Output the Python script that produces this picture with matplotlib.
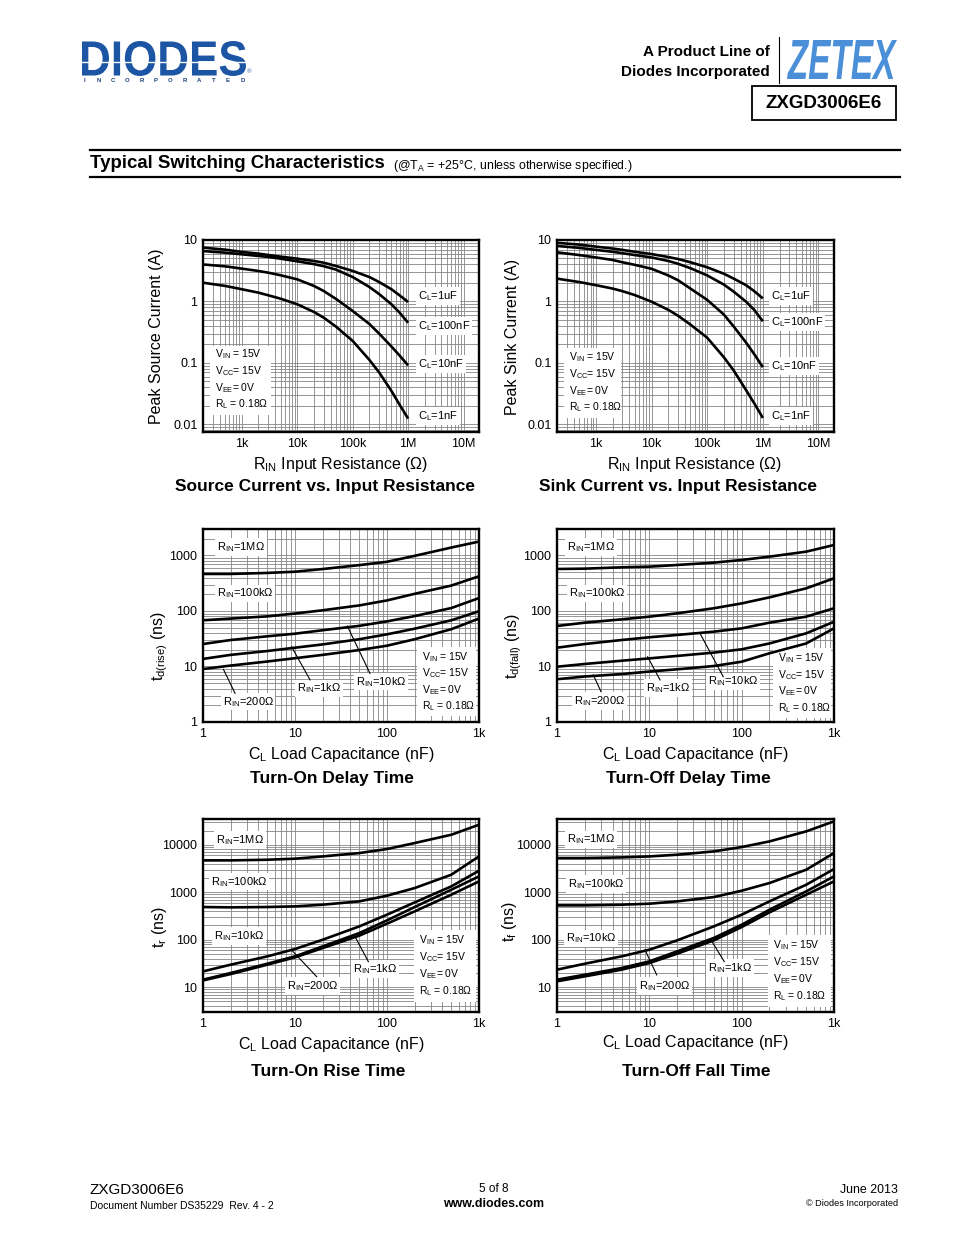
import numpy as np
import matplotlib
matplotlib.use('Agg')
import matplotlib.pyplot as plt
from matplotlib.ticker import LogLocator, NullFormatter, FixedLocator, FixedFormatter
from matplotlib.textpath import TextPath
from matplotlib.patches import PathPatch, Rectangle
from matplotlib.font_manager import FontProperties
from matplotlib.transforms import Affine2D

plt.rcParams['font.family'] = ['Liberation Sans', 'DejaVu Sans']
plt.rcParams['mathtext.fontset'] = 'custom'
plt.rcParams['mathtext.rm'] = 'Liberation Sans'
plt.rcParams['mathtext.it'] = 'Liberation Sans:italic'
plt.rcParams['mathtext.bf'] = 'Liberation Sans:bold'

# ---------------- data ----------------
r_in = [200, 500, 1e3, 2e3, 3e3, 5e3, 1e4, 2e4, 3e4, 5e4, 1e5, 2e5, 3e5, 5e5, 7e5, 1e6]
src_1uF = [7.5, 6.97, 6.4, 6.0, 5.7, 5.36, 4.97, 4.56, 4.27, 3.78, 3.14, 2.5, 2.07, 1.58, 1.26, 0.98]
src_100nF = [6.6, 6.22, 5.85, 5.5, 5.3, 4.97, 4.5, 4.05, 3.75, 3.3, 2.5, 1.72, 1.32, 0.90, 0.66, 0.45]
src_10nF = [4.0, 3.73, 3.42, 3.13, 2.94, 2.67, 2.29, 1.79, 1.48, 1.1, 0.70, 0.43, 0.30, 0.185, 0.132, 0.091]
src_1nF = [2.02, 1.79, 1.58, 1.39, 1.26, 1.11, 0.90, 0.675, 0.545, 0.39, 0.228, 0.112, 0.070, 0.035, 0.021, 0.0124]

snk_1uF = [9.0, 8.42, 7.8, 7.26, 6.9, 6.43, 5.9, 5.28, 4.9, 4.34, 3.6, 2.82, 2.35, 1.84, 1.47, 1.12]
snk_100nF = [8.0, 7.45, 6.9, 6.43, 6.1, 5.69, 5.2, 4.56, 4.1, 3.48, 2.65, 1.88, 1.44, 0.99, 0.73, 0.475]
snk_10nF = [6.3, 5.69, 5.2, 4.73, 4.34, 3.94, 3.4, 2.65, 2.21, 1.62, 1.06, 0.61, 0.39, 0.214, 0.139, 0.085]
snk_1nF = [2.35, 2.07, 1.84, 1.62, 1.47, 1.27, 0.99, 0.73, 0.585, 0.42, 0.257, 0.123, 0.075, 0.036, 0.022, 0.0127]

c_load = [1, 2, 5, 10, 20, 50, 100, 200, 500, 1000]
ton_1M = [465, 465, 485, 510, 570, 670, 770, 985, 1390, 1780]
ton_100k = [68, 73, 80, 90, 103, 126, 155, 204, 287, 422]
ton_10k = [25.4, 30, 35, 39, 45, 54, 65, 81, 113, 171]
ton_1k = [13.7, 16.2, 19, 21.8, 25, 31, 38, 48, 68, 99]
ton_200 = [9.0, 10.4, 12.3, 14.1, 16.2, 19.8, 23.7, 31, 47, 73]

toff_1M = [571, 579, 612, 629, 674, 743, 830, 953, 1172, 1545]
toff_100k = [53.7, 61.6, 70.7, 79, 90.8, 112, 137, 176, 256, 388]
toff_10k = [21.8, 25.4, 30, 33.6, 37, 42.4, 48.7, 61.6, 79, 112]
toff_1k = [9.9, 11.1, 12.7, 14, 15.5, 17.8, 20.4, 26, 39.6, 64]
toff_200 = [5.9, 6.6, 7.3, 8.1, 8.9, 10.2, 12.2, 17.3, 26, 48.7]

tr_1M = [4700, 4700, 4850, 5100, 5700, 6700, 8150, 10900, 16300, 26500]
tr_100k = [489, 481, 489, 505, 547, 643, 847, 1228, 2344, 5700]
tr_10k = [21.5, 29.8, 44.6, 63.7, 100, 191, 337, 612, 1331, 2845]
tr_1k = [14.4, 19.9, 31.2, 44.6, 72.4, 138, 256, 489, 1132, 2163]
tr_200 = [13.9, 18.9, 29.8, 42.5, 66.8, 122, 218, 396, 889, 1695]

tf_1M = [5260, 5260, 5430, 5700, 6180, 7270, 8970, 11800, 19200, 31200]
tf_100k = [530, 530, 547, 574, 643, 793, 1079, 1565, 2988, 6710]
tf_10k = [23.4, 31.2, 44.6, 61.6, 97, 191, 337, 643, 1442, 3086]
tf_1k = [14.4, 18.3, 25.3, 35, 56.8, 109, 207, 429, 1044, 2163]
tf_200 = [13.3, 16.9, 23.4, 32.3, 50.7, 97, 185, 377, 889, 1695]

r_ticks = [1e3, 1e4, 1e5, 1e6, 1e7]
r_ticklabels = ['1k', '10k', '100k', '1M', '10M']
i_ticks = [0.01, 0.1, 1, 10]
i_ticklabels = ['0.01', '0.1', '1', '10']
c_ticks = [1, 10, 100, 1000]
c_ticklabels = ['1', '10', '100', '1k']
td_ticks = [1, 10, 100, 1000]
td_ticklabels = ['1', '10', '100', '1000']
t_ticks = [10, 100, 1000, 10000]
t_ticklabels = ['10', '100', '1000', '10000']

W, H = 954, 1235
fig = plt.figure(figsize=(W / 100, H / 100), dpi=100)
bg = fig.add_axes([0, 0, 1, 1])
bg.set_xlim(0, W)
bg.set_ylim(H, 0)
bg.axis('off')


def px_axes(x0, y0, x1, y1):
    return fig.add_axes([x0 / W, 1 - y1 / H, (x1 - x0) / W, (y1 - y0) / H])


def path_text(s, x0, y0, x1, y1, color, weight='bold', style='normal'):
    fp = FontProperties(family='Liberation Sans', weight=weight, style=style)
    tp = TextPath((0, 0), s, size=10, prop=fp)
    bb = tp.get_extents()
    tr = Affine2D().translate(-bb.x0, -bb.y0).scale((x1 - x0) / bb.width, -(y1 - y0) / bb.height).translate(x0, y1)
    bg.add_patch(PathPatch(tr.transform_path(tp), fc=color, ec='none'))


# ---------------- header ----------------
path_text('DIODES', 82, 41, 246, 76, '#1c55a3', weight='bold')
bg.plot([82, 246], [62, 62], color='white', lw=1.0)
for i, ch in enumerate('INCORPORATED'):
    bg.text(84 + i * 14.4, 80.5, ch, fontsize=4.3, fontweight='bold', color='#1c3f7a', ha='center', va='center')
bg.text(249, 72, '®', fontsize=4.5, color='#1c55a3', ha='center', va='center')

path_text('ZETEX', 787, 40, 897, 79, '#4a8fd8', weight='bold', style='italic')
bg.plot([779, 779], [37, 83], color='black', lw=0.8)
bg.text(770, 52, 'A Product Line of', ha='right', va='center', fontsize=11, fontweight='bold')
bg.text(770, 72, 'Diodes Incorporated', ha='right', va='center', fontsize=11, fontweight='bold')
bg.add_patch(Rectangle((752, 86), 144, 34, fill=False, lw=1.3, ec='black'))
bg.text(824, 103, 'ZXGD3006E6', ha='center', va='center', fontsize=13.5, fontweight='bold')

bg.plot([90, 900], [150, 150], color='black', lw=1.6)
bg.plot([90, 900], [177, 177], color='black', lw=1.6)
bg.text(90, 164, 'Typical Switching Characteristics', fontsize=13.4, fontweight='bold', va='center', ha='left')
bg.text(393, 166, r'(@T$_\mathrm{A}$ = +25°C, unless otherwise specified.)', fontsize=8.9, va='center', ha='left')

# ---------------- footer ----------------
bg.text(90, 1190, 'ZXGD3006E6', fontsize=11, va='center', ha='left')
bg.text(90, 1206, 'Document Number DS35229  Rev. 4 - 2', fontsize=7.5, va='center', ha='left')
bg.text(494, 1189, '5 of 8', fontsize=8.5, va='center', ha='center')
bg.text(494, 1204, 'www.diodes.com', fontsize=8.9, fontweight='bold', va='center', ha='center')
bg.text(898, 1190, 'June 2013', fontsize=8.9, va='center', ha='right')
bg.text(898, 1204, '© Diodes Incorporated', fontsize=6.6, va='center', ha='right')


# ---------------- helpers ----------------
def setup(ax, xlim, ylim, xt, xtl, yt, ytl):
    ax.set_xscale('log')
    ax.set_yscale('log')
    ax.set_xlim(*xlim)
    ax.set_ylim(*ylim)
    ax.xaxis.set_major_locator(FixedLocator(xt))
    ax.xaxis.set_major_formatter(FixedFormatter(xtl))
    ax.yaxis.set_major_locator(FixedLocator(yt))
    ax.yaxis.set_major_formatter(FixedFormatter(ytl))
    for a in (ax.xaxis, ax.yaxis):
        a.set_minor_locator(LogLocator(base=10, subs=np.arange(1, 10), numticks=200))
        a.set_minor_formatter(NullFormatter())
    ax.grid(True, which='both', color='#858585', lw=0.6)
    ax.set_axisbelow(True)
    ax.tick_params(which='both', length=0)
    ax.tick_params(axis='x', pad=4, labelsize=9)
    ax.tick_params(axis='y', pad=4, labelsize=9)
    for s in ax.spines.values():
        s.set_linewidth(1.7)
        s.set_zorder(5)


def conditions(ax, x, ys, box):
    bx0, by0, bx1, by1 = box
    ax.add_patch(Rectangle((bx0, by0), bx1 - bx0, by1 - by0, transform=ax.transAxes,
                           fc='white', ec='none', zorder=1.5))
    lines = [r'V$_\mathrm{IN}$ = 15V', r'V$_\mathrm{CC}$= 15V', r'V$_\mathrm{EE}$= 0V', r'R$_\mathrm{L}$ = 0.18Ω']
    for s, y in zip(lines, ys):
        ax.text(x, y, s, transform=ax.transAxes, fontsize=7.5, ha='left', va='center', zorder=4)


def label(ax, x, y, s, fs=8):
    ax.text(x, y, s, transform=ax.transAxes, fontsize=fs, ha='left', va='center', zorder=4,
            bbox=dict(fc='white', ec='none', pad=1.2))


def leader(ax, p0, p1):
    ax.plot([p0[0], p1[0]], [p0[1], p1[1]], transform=ax.transAxes, color='black', lw=0.8, zorder=4)


LW = 1.9
CURVE = dict(color='black', lw=LW, zorder=2.5, solid_capstyle='butt', solid_joinstyle='round')

# ---------------- plot 1: source current ----------------
ax1 = px_axes(203, 240, 479, 432)
setup(ax1, (200, 1.9e7), (0.0075, 10), r_ticks, r_ticklabels, i_ticks, i_ticklabels)
for ys in (src_1uF, src_100nF, src_10nF, src_1nF):
    ax1.plot(r_in, ys, **CURVE)
label(ax1, 0.779, 0.708, r'C$_\mathrm{L}$=1uF')
label(ax1, 0.779, 0.552, r'C$_\mathrm{L}$=100nF')
label(ax1, 0.779, 0.354, r'C$_\mathrm{L}$=10nF')
label(ax1, 0.779, 0.083, r'C$_\mathrm{L}$=1nF')
conditions(ax1, 0.045, [0.406, 0.318, 0.229, 0.146], (0.025, 0.09, 0.245, 0.45))

# ---------------- plot 2: sink current ----------------
ax2 = px_axes(557, 240, 834, 432)
setup(ax2, (200, 1.9e7), (0.0075, 10), r_ticks, r_ticklabels, i_ticks, i_ticklabels)
for ys in (snk_1uF, snk_100nF, snk_10nF, snk_1nF):
    ax2.plot(r_in, ys, **CURVE)
label(ax2, 0.773, 0.708, r'C$_\mathrm{L}$=1uF')
label(ax2, 0.773, 0.573, r'C$_\mathrm{L}$=100nF')
label(ax2, 0.773, 0.344, r'C$_\mathrm{L}$=10nF')
label(ax2, 0.773, 0.083, r'C$_\mathrm{L}$=1nF')
conditions(ax2, 0.045, [0.391, 0.302, 0.214, 0.130], (0.025, 0.075, 0.23, 0.44))

# ---------------- plot 3: turn-on delay ----------------
ax3 = px_axes(203, 529, 479, 722)
setup(ax3, (1, 1000), (1, 3000), c_ticks, c_ticklabels, td_ticks, td_ticklabels)
for ys in (ton_1M, ton_100k, ton_10k, ton_1k, ton_200):
    ax3.plot(c_load, ys, **CURVE)
label(ax3, 0.051, 0.907, r'R$_\mathrm{IN}$=1MΩ')
label(ax3, 0.051, 0.668, r'R$_\mathrm{IN}$=100kΩ')
label(ax3, 0.071, 0.105, r'R$_\mathrm{IN}$=200Ω')
label(ax3, 0.339, 0.175, r'R$_\mathrm{IN}$=1kΩ')
label(ax3, 0.554, 0.209, r'R$_\mathrm{IN}$=10kΩ')
leader(ax3, (0.074, 0.273), (0.116, 0.149))
leader(ax3, (0.321, 0.390), (0.388, 0.218))
leader(ax3, (0.523, 0.497), (0.605, 0.252))
conditions(ax3, 0.793, [0.337, 0.254, 0.166, 0.083], (0.775, 0.03, 0.99, 0.39))

# ---------------- plot 4: turn-off delay ----------------
ax4 = px_axes(557, 529, 834, 722)
setup(ax4, (1, 1000), (1, 3000), c_ticks, c_ticklabels, td_ticks, td_ticklabels)
for ys in (toff_1M, toff_100k, toff_10k, toff_1k, toff_200):
    ax4.plot(c_load, ys, **CURVE)
label(ax4, 0.036, 0.907, r'R$_\mathrm{IN}$=1MΩ')
label(ax4, 0.043, 0.668, r'R$_\mathrm{IN}$=100kΩ')
label(ax4, 0.061, 0.109, r'R$_\mathrm{IN}$=200Ω')
label(ax4, 0.321, 0.176, r'R$_\mathrm{IN}$=1kΩ')
label(ax4, 0.545, 0.212, r'R$_\mathrm{IN}$=10kΩ')
leader(ax4, (0.131, 0.244), (0.159, 0.157))
leader(ax4, (0.327, 0.338), (0.372, 0.218))
leader(ax4, (0.516, 0.460), (0.600, 0.235))
conditions(ax4, 0.798, [0.332, 0.244, 0.161, 0.073], (0.78, 0.02, 0.99, 0.385))

# ---------------- plot 5: rise time ----------------
ax5 = px_axes(203, 819, 479, 1012)
setup(ax5, (1, 1000), (3, 35000), c_ticks, c_ticklabels, t_ticks, t_ticklabels)
for ys in (tr_1M, tr_100k, tr_10k, tr_1k, tr_200):
    ax5.plot(c_load, ys, **CURVE)
label(ax5, 0.047, 0.891, r'R$_\mathrm{IN}$=1MΩ')
label(ax5, 0.029, 0.674, r'R$_\mathrm{IN}$=100kΩ')
label(ax5, 0.040, 0.394, r'R$_\mathrm{IN}$=10kΩ')
label(ax5, 0.543, 0.223, r'R$_\mathrm{IN}$=1kΩ')
label(ax5, 0.304, 0.135, r'R$_\mathrm{IN}$=200Ω')
leader(ax5, (0.554, 0.382), (0.599, 0.261))
leader(ax5, (0.321, 0.321), (0.412, 0.183))
conditions(ax5, 0.783, [0.373, 0.285, 0.197, 0.109], (0.765, 0.05, 0.99, 0.425))

# ---------------- plot 6: fall time ----------------
ax6 = px_axes(557, 819, 834, 1012)
setup(ax6, (1, 1000), (3, 35000), c_ticks, c_ticklabels, t_ticks, t_ticklabels)
for ys in (tf_1M, tf_100k, tf_10k, tf_1k, tf_200):
    ax6.plot(c_load, ys, **CURVE)
label(ax6, 0.036, 0.896, r'R$_\mathrm{IN}$=1MΩ')
label(ax6, 0.040, 0.663, r'R$_\mathrm{IN}$=100kΩ')
label(ax6, 0.032, 0.383, r'R$_\mathrm{IN}$=10kΩ')
label(ax6, 0.545, 0.228, r'R$_\mathrm{IN}$=1kΩ')
label(ax6, 0.296, 0.135, r'R$_\mathrm{IN}$=200Ω')
leader(ax6, (0.558, 0.368), (0.604, 0.261))
leader(ax6, (0.318, 0.321), (0.360, 0.192))
conditions(ax6, 0.780, [0.347, 0.259, 0.171, 0.083], (0.76, 0.025, 0.99, 0.40))

# ---------------- axis labels / titles ----------------
def ylab(x, y, s):
    bg.text(x, y, s, rotation=90, fontsize=11.5, ha='center', va='center')


def xlab(x, y, s):
    bg.text(x, y, s, fontsize=11.5, ha='center', va='center')


def title(x, y, s):
    bg.text(x, y, s, fontsize=12.5, fontweight='bold', ha='center', va='center')


ylab(157, 336, 'Peak Source Current (A)')
xlab(341, 464, r'R$_\mathrm{IN}$ Input Resistance (Ω)')
title(325, 487, 'Source Current vs. Input Resistance')

ylab(513, 337, 'Peak Sink Current (A)')
xlab(695, 464, r'R$_\mathrm{IN}$ Input Resistance (Ω)')
title(678, 487, 'Sink Current vs. Input Resistance')

ylab(160, 646, r't$_\mathrm{d(rise)}$ (ns)')
xlab(341, 754, r'C$_\mathrm{L}$ Load Capacitance (nF)')
title(332, 778, 'Turn-On Delay Time')

ylab(514, 646, r't$_\mathrm{d(fall)}$ (ns)')
xlab(695, 754, r'C$_\mathrm{L}$ Load Capacitance (nF)')
title(688, 778, 'Turn-Off Delay Time')

ylab(160, 927, r't$_\mathrm{r}$ (ns)')
xlab(331, 1045, r'C$_\mathrm{L}$ Load Capacitance (nF)')
title(328, 1071, 'Turn-On Rise Time')

ylab(510, 921, r't$_\mathrm{f}$ (ns)')
xlab(695, 1043, r'C$_\mathrm{L}$ Load Capacitance (nF)')
title(696, 1071, 'Turn-Off Fall Time')

fig.savefig('out.png', dpi=100)
